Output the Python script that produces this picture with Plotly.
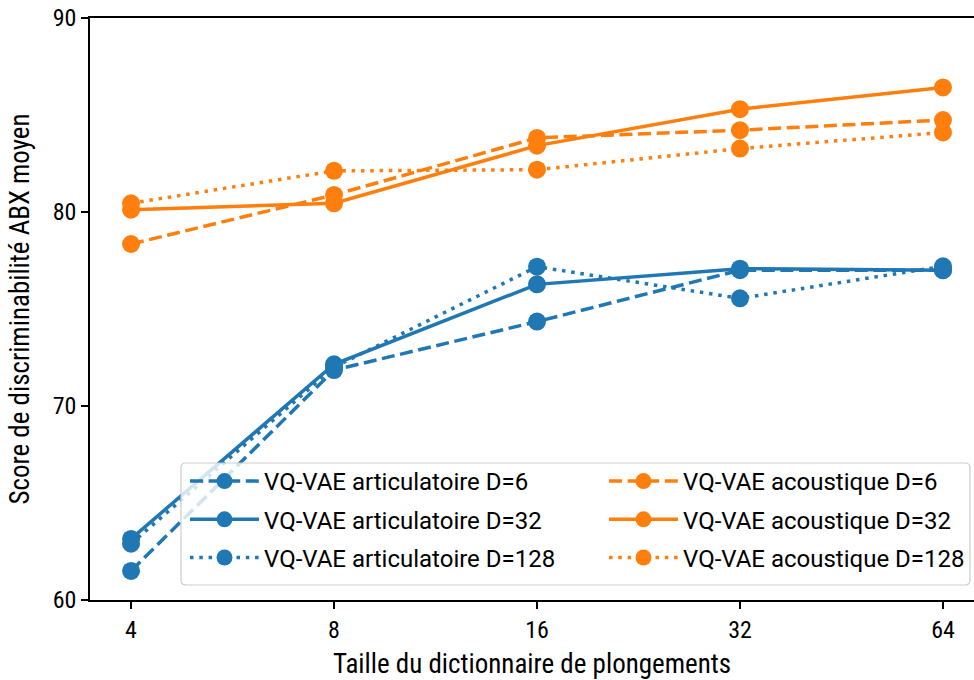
import plotly.graph_objects as go

# Codebook sizes (x axis, log2 spaced)
sizes = [4, 8, 16, 32, 64]

# Mean ABX discriminability scores
artic_d6 = [61.5, 71.85, 74.35, 77.0, 77.0]
artic_d32 = [63.15, 72.15, 76.27, 77.08, 77.0]
artic_d128 = [62.9, 72.0, 77.18, 75.55, 77.2]
acous_d6 = [78.35, 80.88, 83.82, 84.22, 84.74]
acous_d32 = [80.12, 80.45, 83.42, 85.3, 86.42]
acous_d128 = [80.45, 82.12, 82.18, 83.27, 84.1]

y_ticks = [60, 70, 80, 90]

BLUE = "#1f77b4"
ORANGE = "#ff7f0e"
FONT = "Roboto Condensed, Liberation Sans Narrow, Arial Narrow, DejaVu Sans Condensed, sans-serif"
LEGEND_FONT = "Roboto, sans-serif"
DASHES = {"6": "13px,5.6px", "32": "solid", "128": "3.5px,5.8px"}

series = [
    ("VQ-VAE articulatoire D=6", artic_d6, BLUE, "6", "legend"),
    ("VQ-VAE articulatoire D=32", artic_d32, BLUE, "32", "legend"),
    ("VQ-VAE articulatoire D=128", artic_d128, BLUE, "128", "legend"),
    ("VQ-VAE acoustique D=6", acous_d6, ORANGE, "6", "legend2"),
    ("VQ-VAE acoustique D=32", acous_d32, ORANGE, "32", "legend2"),
    ("VQ-VAE acoustique D=128", acous_d128, ORANGE, "128", "legend2"),
]

fig = go.Figure()
for name, vals, color, d, leg in series:
    fig.add_trace(go.Scatter(
        x=sizes, y=vals, name=name, mode="lines+markers",
        line=dict(color=color, width=3.5, dash=DASHES[d]),
        marker=dict(color=color, size=18, line=dict(width=0)),
        legend=leg, legendgroup=name,
    ))

# Plot-area geometry (pixels) used to place the legend frame
W, H = 974, 680
L, R, T, B = 90, 0, 18, 80
pw, ph = W - L - R, H - T - B


def px_to_paper(xp, yp):
    return (xp - L) / pw, (H - B - yp) / ph


# Rounded legend frame
fx0, fy0 = px_to_paper(181, 585)
fx1, fy1 = px_to_paper(970, 463)
rx, ry = 5 / pw, 5 / ph
frame = (
    f"M {fx0 + rx},{fy0} L {fx1 - rx},{fy0} Q {fx1},{fy0} {fx1},{fy0 + ry} "
    f"L {fx1},{fy1 - ry} Q {fx1},{fy1} {fx1 - rx},{fy1} "
    f"L {fx0 + rx},{fy1} Q {fx0},{fy1} {fx0},{fy1 - ry} "
    f"L {fx0},{fy0 + ry} Q {fx0},{fy0} {fx0 + rx},{fy0} Z"
)
fig.add_shape(type="path", path=frame, xref="paper", yref="paper",
              fillcolor="rgba(255,255,255,0.8)", line=dict(color="#cccccc", width=1.2),
              layer="above")

lx1, ly = px_to_paper(185, 459)
lx2, _ = px_to_paper(604, 459)
legend_style = dict(
    bgcolor="rgba(0,0,0,0)", borderwidth=0, xanchor="left", yanchor="top",
    font=dict(family=LEGEND_FONT, size=24, color="#000000"), itemwidth=69,
    tracegroupgap=4,
)

fig.update_layout(
    width=W, height=H,
    margin=dict(l=L, r=R, t=T, b=B, pad=0),
    paper_bgcolor="white", plot_bgcolor="white",
    font=dict(family=FONT, size=22.8, color="#000000"),
    legend=dict(x=lx1, y=ly, **legend_style),
    legend2=dict(x=lx2, y=ly, **legend_style),
    xaxis=dict(
        type="log", range=[0.5412, 1.8522],
        tickvals=sizes, ticktext=[str(s) for s in sizes],
        showgrid=False, zeroline=False,
        showline=True, linecolor="black", linewidth=1.5, mirror=True,
        ticks="outside", ticklen=7, tickwidth=1.5, tickcolor="black",
        tickfont=dict(size=24),
        title=dict(text="Taille du dictionnaire de plongements", standoff=12),
    ),
    yaxis=dict(
        range=[60, 90], tickvals=y_ticks,
        showgrid=False, zeroline=False,
        showline=True, linecolor="black", linewidth=1.5,
        ticks="outside", ticklen=7, tickwidth=1.5, tickcolor="black",
        tickfont=dict(size=24),
        title=dict(text="Score de discriminabilité ABX moyen", standoff=15),
    ),
)

fig.write_html("out.html")
